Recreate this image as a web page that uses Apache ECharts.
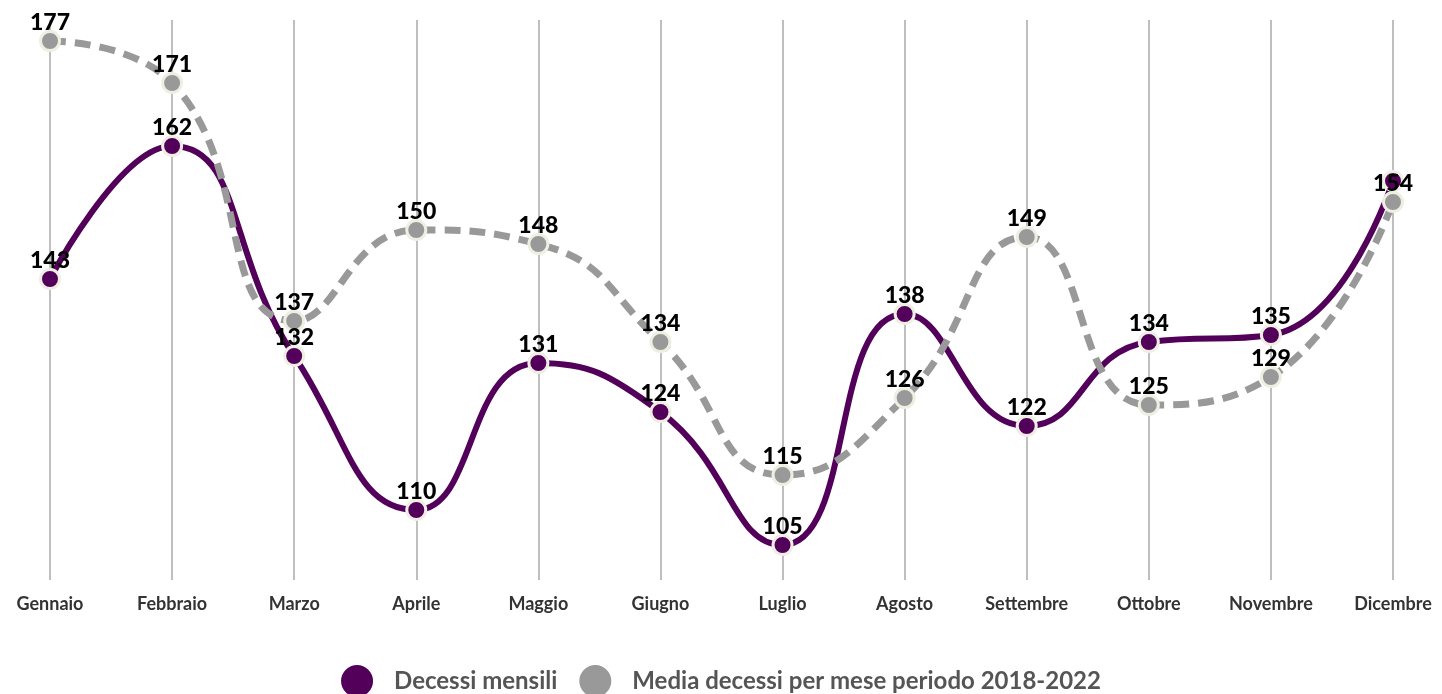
<!DOCTYPE html>
<html><head><meta charset="utf-8">
<script src="https://cdn.jsdelivr.net/npm/echarts@6/dist/echarts.min.js"></script>
<style>html,body{margin:0;padding:0;background:#fff}#c{width:1442px;height:694px}</style>
</head><body><div id="c"></div>
<script>
const months = ['Gennaio','Febbraio','Marzo','Aprile','Maggio','Giugno','Luglio','Agosto','Settembre','Ottobre','Novembre','Dicembre'];
const decessiMensili = [143,162,132,110,131,124,105,138,122,134,135,157];
const mediaDecessi = [177,171,137,150,148,134,115,126,149,125,129,154];
const seriesNames = ['Decessi mensili','Media decessi per mese periodo 2018-2022'];

const chart = echarts.init(document.getElementById('c'));
const labelStyle = {show:true, position:'top', distance:-4, color:'#000', fontFamily:'Lato', fontWeight:900, fontSize:23};
chart.setOption({
  animation:false,
  grid:{left:50,right:49,top:20,bottom:114},
  legend:{top:660,left:'center',icon:'circle',itemWidth:32,itemHeight:32,itemGap:22,
    itemStyle:{borderWidth:0},
    textStyle:{fontFamily:'Lato',fontWeight:'bold',fontSize:24,color:'#555',padding:[0,0,0,16]}},
  xAxis:{type:'category',data:months,boundaryGap:false,
    axisLine:{show:false},axisTick:{show:false},
    axisLabel:{margin:15,fontFamily:'Lato',fontWeight:'bold',fontSize:18,color:'#333'},
    splitLine:{show:true,lineStyle:{color:'#aaa',width:1.5}}},
  yAxis:{type:'value',min:100,max:180,show:false,splitLine:{show:false}},
  series:[
    {name:seriesNames[0],type:'line',smooth:true,z:2,
      data:decessiMensili.map((v,i)=> i===11 ? {value:v,label:{show:false}} : v),
      symbol:'circle',symbolSize:19,
      itemStyle:{color:'#52005a',borderColor:'#eeeee2',borderWidth:3},
      lineStyle:{color:'#52005a',width:6},
      label:labelStyle},
    {name:seriesNames[1],type:'line',smooth:true,z:2,
      data:mediaDecessi,
      symbol:'circle',symbolSize:19,
      itemStyle:{color:'#999',borderColor:'#eeeee2',borderWidth:3},
      lineStyle:{color:'#999',width:7,type:[16,9]},
      label:labelStyle}
  ]
});
</script></body></html>
